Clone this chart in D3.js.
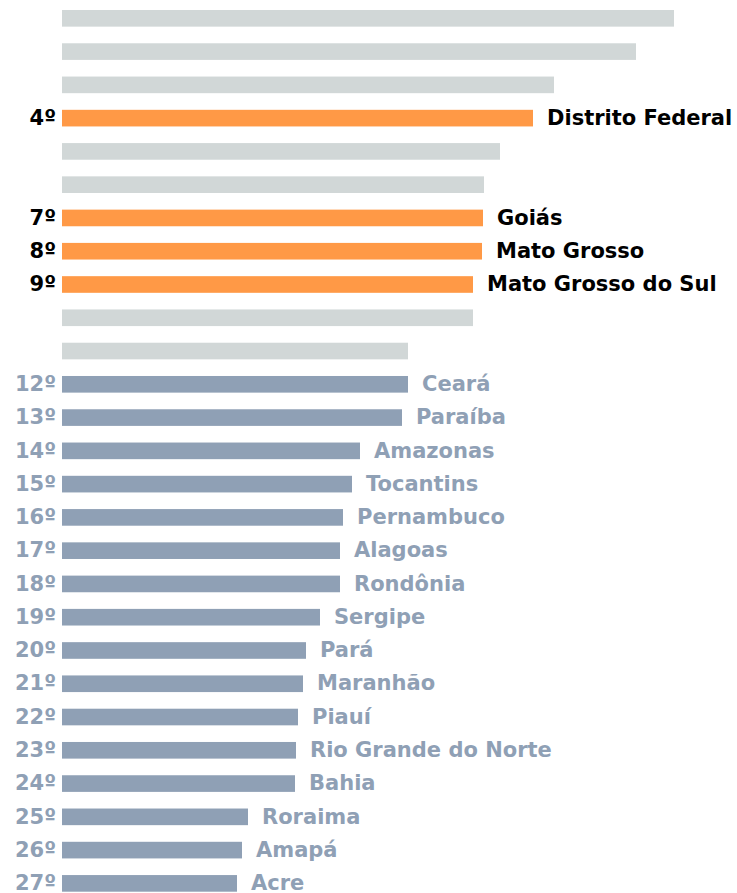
<!DOCTYPE html>
<html>
<head>
<meta charset="utf-8">
<script src="https://cdn.jsdelivr.net/npm/d3@7"></script>
<style>
  html, body { margin: 0; padding: 0; background: #ffffff; }
  svg { display: block; }
  text { font-family: "DejaVu Sans", Verdana, sans-serif; font-weight: bold; }
</style>
</head>
<body>
<svg id="chart" width="737" height="893"></svg>
<script>
// Rank order (1st .. 27th); unnamed rows are shown as grey bars without labels
const states = [
  "", "", "", "Distrito Federal", "", "", "Goiás", "Mato Grosso", "Mato Grosso do Sul",
  "", "", "Ceará", "Paraíba", "Amazonas", "Tocantins", "Pernambuco", "Alagoas",
  "Rondônia", "Sergipe", "Pará", "Maranhão", "Piauí", "Rio Grande do Norte",
  "Bahia", "Roraima", "Amapá", "Acre"
];
const ranks = [
  "1º", "2º", "3º", "4º", "5º", "6º", "7º", "8º", "9º", "10º", "11º", "12º", "13º",
  "14º", "15º", "16º", "17º", "18º", "19º", "20º", "21º", "22º", "23º", "24º",
  "25º", "26º", "27º"
];
// group: "other" (grey, unlabelled), "highlight" (orange), "rest" (blue-grey)
const groups = [
  "other", "other", "other", "highlight", "other", "other", "highlight", "highlight",
  "highlight", "other", "other", "rest", "rest", "rest", "rest", "rest", "rest",
  "rest", "rest", "rest", "rest", "rest", "rest", "rest", "rest", "rest", "rest"
];
// Estimated bar values (relative index)
const values = [
  612, 574, 492, 471, 438, 422, 421, 420, 411, 411, 346, 346, 340, 298, 290,
  281, 278, 278, 258, 244, 241, 236, 234, 233, 186, 180, 175
];

const colors = { other: "#d1d7d7", highlight: "#ff9946", rest: "#8fa0b5" };
const textColors = { highlight: "#000000", rest: "#8fa0b5" };

const rows = ranks.map((r, i) => ({ rank: r, name: states[i], group: groups[i], value: values[i] }));

const svg = d3.select("#chart");

const x = d3.scaleLinear().domain([0, 612]).range([62, 674]);
const y = d3.scaleBand()
  .domain(ranks)
  .range([10, 891.7])
  .paddingInner(0.5)
  .paddingOuter(0);

const g = svg.append("g");

g.selectAll("rect.bar")
  .data(rows)
  .join("rect")
  .attr("class", "bar")
  .attr("x", x(0))
  .attr("y", d => y(d.rank))
  .attr("width", d => x(d.value) - x(0))
  .attr("height", y.bandwidth())
  .attr("fill", d => colors[d.group]);

const labelled = rows.filter(d => d.group !== "other");

g.selectAll("text.rank")
  .data(labelled)
  .join("text")
  .attr("class", "rank")
  .attr("x", 56)
  .attr("y", d => y(d.rank) + y.bandwidth() / 2)
  .attr("dy", "0.32em")
  .attr("text-anchor", "end")
  .attr("font-size", 21)
  .attr("fill", d => textColors[d.group])
  .text(d => d.rank);

g.selectAll("text.name")
  .data(labelled)
  .join("text")
  .attr("class", "name")
  .attr("x", d => x(d.value) + 14)
  .attr("y", d => y(d.rank) + y.bandwidth() / 2)
  .attr("dy", "0.32em")
  .attr("text-anchor", "start")
  .attr("font-size", 21)
  .attr("fill", d => textColors[d.group])
  .text(d => d.name);
</script>
</body>
</html>
